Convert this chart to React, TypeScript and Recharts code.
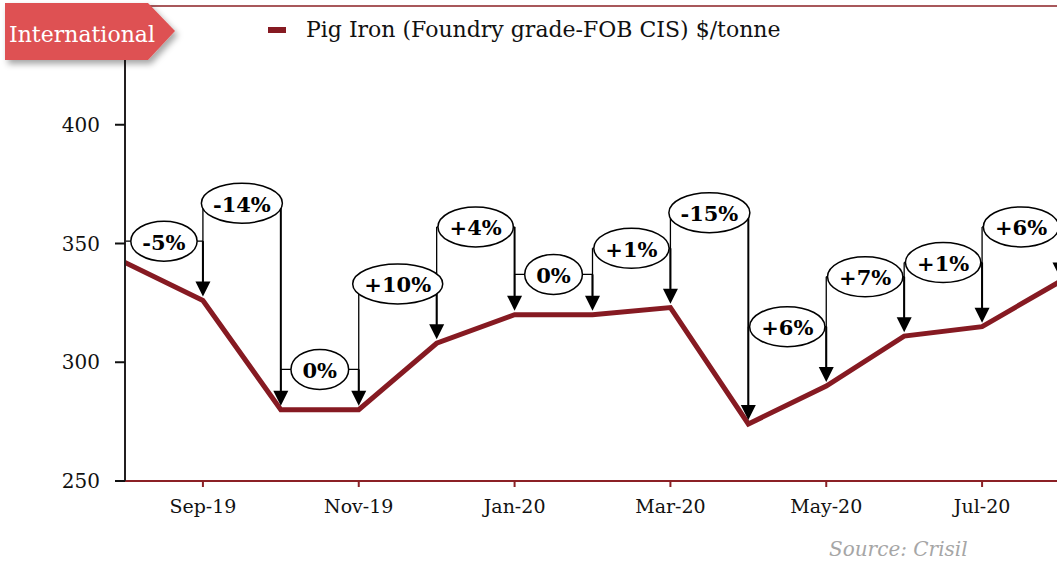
import { LineChart, Line, XAxis, YAxis, ReferenceLine, ReferenceDot, Legend } from 'recharts';

const months = ['Aug-19', 'Sep-19', 'Oct-19', 'Nov-19', 'Dec-19', 'Jan-20', 'Feb-20', 'Mar-20', 'Apr-20', 'May-20', 'Jun-20', 'Jul-20', 'Aug-20'];
const prices = [342, 326, 280, 280, 308, 320, 320, 323, 274, 290, 311, 315, 334];
// month-on-month change callouts (one per step) and the height they sit at
const changeLabels = ['-5%', '-14%', '0%', '+10%', '+4%', '0%', '+1%', '-15%', '+6%', '+7%', '+1%', '+6%'];
const calloutLevels = [351, 367, 297, 333, 357, 337, 348, 363, 315, 336, 342, 357];
const yTicks = [250, 300, 350, 400, 450];
const xTicks = [1, 3, 5, 7, 9, 11];

const data = months.map((m, i) => ({ idx: i, month: m, price: prices[i] }));

const LINE_COLOR = '#861A22';
const AXIS_RED = '#8B2025';
const FONT = 'DejaVu Serif';

// rough glyph widths for DejaVu Serif Bold, used to size the ellipses
const glyphW: Record<string, number> = { '+': 0.84, '-': 0.41, '%': 1.0 };
const textWidth = (s: string, size: number) =>
  s.split('').reduce((w, ch) => w + (glyphW[ch] ?? 0.7), 0) * size;

const ArrowShape = (props: any) => {
  const { x1, y1, x2, y2 } = props;
  const tip = y2 - 4;
  const headH = 15;
  const headW = 7.5;
  return (
    <g>
      <line x1={x1} y1={y1} x2={x2} y2={tip - headH + 1} stroke="#000" strokeWidth={2} />
      <polygon points={`${x2 - headW},${tip - headH} ${x2 + headW},${tip - headH} ${x2},${tip}`} fill="#000" />
    </g>
  );
};

const LegShape = (props: any) => {
  const { x1, y1, x2, y2 } = props;
  return <line x1={x1} y1={y1} x2={x2} y2={Math.max(y1, y2 - 19)} stroke="#000" strokeWidth={1.3} />;
};

const BracketShape = (props: any) => {
  const { x1, y1, x2, y2 } = props;
  return <line x1={x1} y1={y1} x2={x2} y2={y2} stroke="#000" strokeWidth={1.3} />;
};

const makeBubble = (label: string) => (props: any) => {
  const { cx, cy } = props;
  const fs = 21;
  const rx = textWidth(label, fs) / 2 + 11;
  return (
    <g>
      <ellipse cx={cx} cy={cy} rx={rx} ry={20} fill="#fff" stroke="#000" strokeWidth={1.5} />
      <text x={cx} y={cy + 1} textAnchor="middle" dominantBaseline="central" fontFamily={FONT} fontWeight="bold" fontSize={fs} fill="#000">
        {label}
      </text>
    </g>
  );
};

const LegendContent = () => (
  <div style={{ display: 'flex', alignItems: 'center', fontFamily: FONT, fontSize: 22, color: '#111', whiteSpace: 'nowrap' }}>
    <span style={{ display: 'inline-block', width: 18, height: 6, background: LINE_COLOR, marginRight: 20 }} />
    <span>Pig Iron (Foundry grade-FOB CIS) $/tonne</span>
  </div>
);

export default function App() {
  const steps = changeLabels.map((label, k) => ({ label, from: k, to: k + 1, level: calloutLevels[k] }));

  return (
    <div style={{ position: 'absolute', left: 0, top: 0, width: 1057, height: 567, overflow: 'hidden', background: '#fff', fontFamily: FONT }}>
      <LineChart width={1080} height={567} data={data} margin={{ top: 6, right: 20, bottom: 0, left: 0 }}>
        <XAxis
          dataKey="idx"
          type="number"
          domain={[0, 12]}
          ticks={xTicks}
          tickFormatter={(v: number) => months[v]}
          height={86}
          stroke={AXIS_RED}
          strokeWidth={2}
          tickSize={6}
          tickMargin={13}
          tick={{ fontFamily: FONT, fontSize: 19, fill: '#111' }}
          tickLine={{ stroke: AXIS_RED, strokeWidth: 2 }}
          allowDataOverflow
        />
        <YAxis
          type="number"
          domain={[250, 450]}
          ticks={yTicks}
          width={125}
          stroke="#231F20"
          strokeWidth={2}
          tickSize={10}
          tickMargin={15}
          tick={{ fontFamily: FONT, fontSize: 20, fill: '#111' }}
          tickLine={{ stroke: '#111', strokeWidth: 2 }}
          allowDataOverflow
        />
        <ReferenceLine y={450} stroke={AXIS_RED} strokeWidth={1.5} ifOverflow="visible" />
        <Legend verticalAlign="middle" content={<LegendContent />} wrapperStyle={{ top: 17, left: 268, width: 'auto' }} />
        <Line
          dataKey="price"
          stroke={LINE_COLOR}
          strokeWidth={5}
          strokeLinejoin="miter"
          dot={false}
          activeDot={false}
          isAnimationActive={false}
        />
        {steps.map((s) => (
          <ReferenceLine
            key={`br-${s.from}`}
            segment={[{ x: s.from, y: s.level }, { x: s.to, y: s.level }]}
            shape={BracketShape}
            ifOverflow="visible"
          />
        ))}
        {steps.map((s) => (
          <ReferenceLine
            key={`leg-${s.from}`}
            segment={[{ x: s.from, y: s.level }, { x: s.from, y: prices[s.from] }]}
            shape={LegShape}
            ifOverflow="visible"
          />
        ))}
        {steps.map((s) => (
          <ReferenceLine
            key={`arr-${s.to}`}
            segment={[{ x: s.to, y: s.level }, { x: s.to, y: prices[s.to] }]}
            shape={ArrowShape}
            ifOverflow="visible"
          />
        ))}
        {steps.map((s) => (
          <ReferenceDot
            key={`dot-${s.from}`}
            x={s.from + 0.5}
            y={s.level}
            r={20}
            shape={makeBubble(s.label)}
            ifOverflow="visible"
          />
        ))}
      </LineChart>

      <svg width={190} height={72} style={{ position: 'absolute', left: 0, top: 0, overflow: 'visible' }}>
        <defs>
          <filter id="ribbonShadow" x="-10%" y="-10%" width="130%" height="150%">
            <feDropShadow dx={3} dy={4} stdDeviation={3} floodColor="#000" floodOpacity={0.35} />
          </filter>
        </defs>
        <polygon points="5,3 148,3 175,31 148,60 5,60" fill="#DE5152" filter="url(#ribbonShadow)" />
        <text x={9} y={42} fontFamily={FONT} fontSize={22} fill="#fff">International</text>
      </svg>

      <div style={{ position: 'absolute', left: 829, top: 537, fontFamily: FONT, fontStyle: 'italic', fontSize: 20, color: '#A6A6A6', whiteSpace: 'nowrap' }}>
        Source: Crisil
      </div>
    </div>
  );
}
